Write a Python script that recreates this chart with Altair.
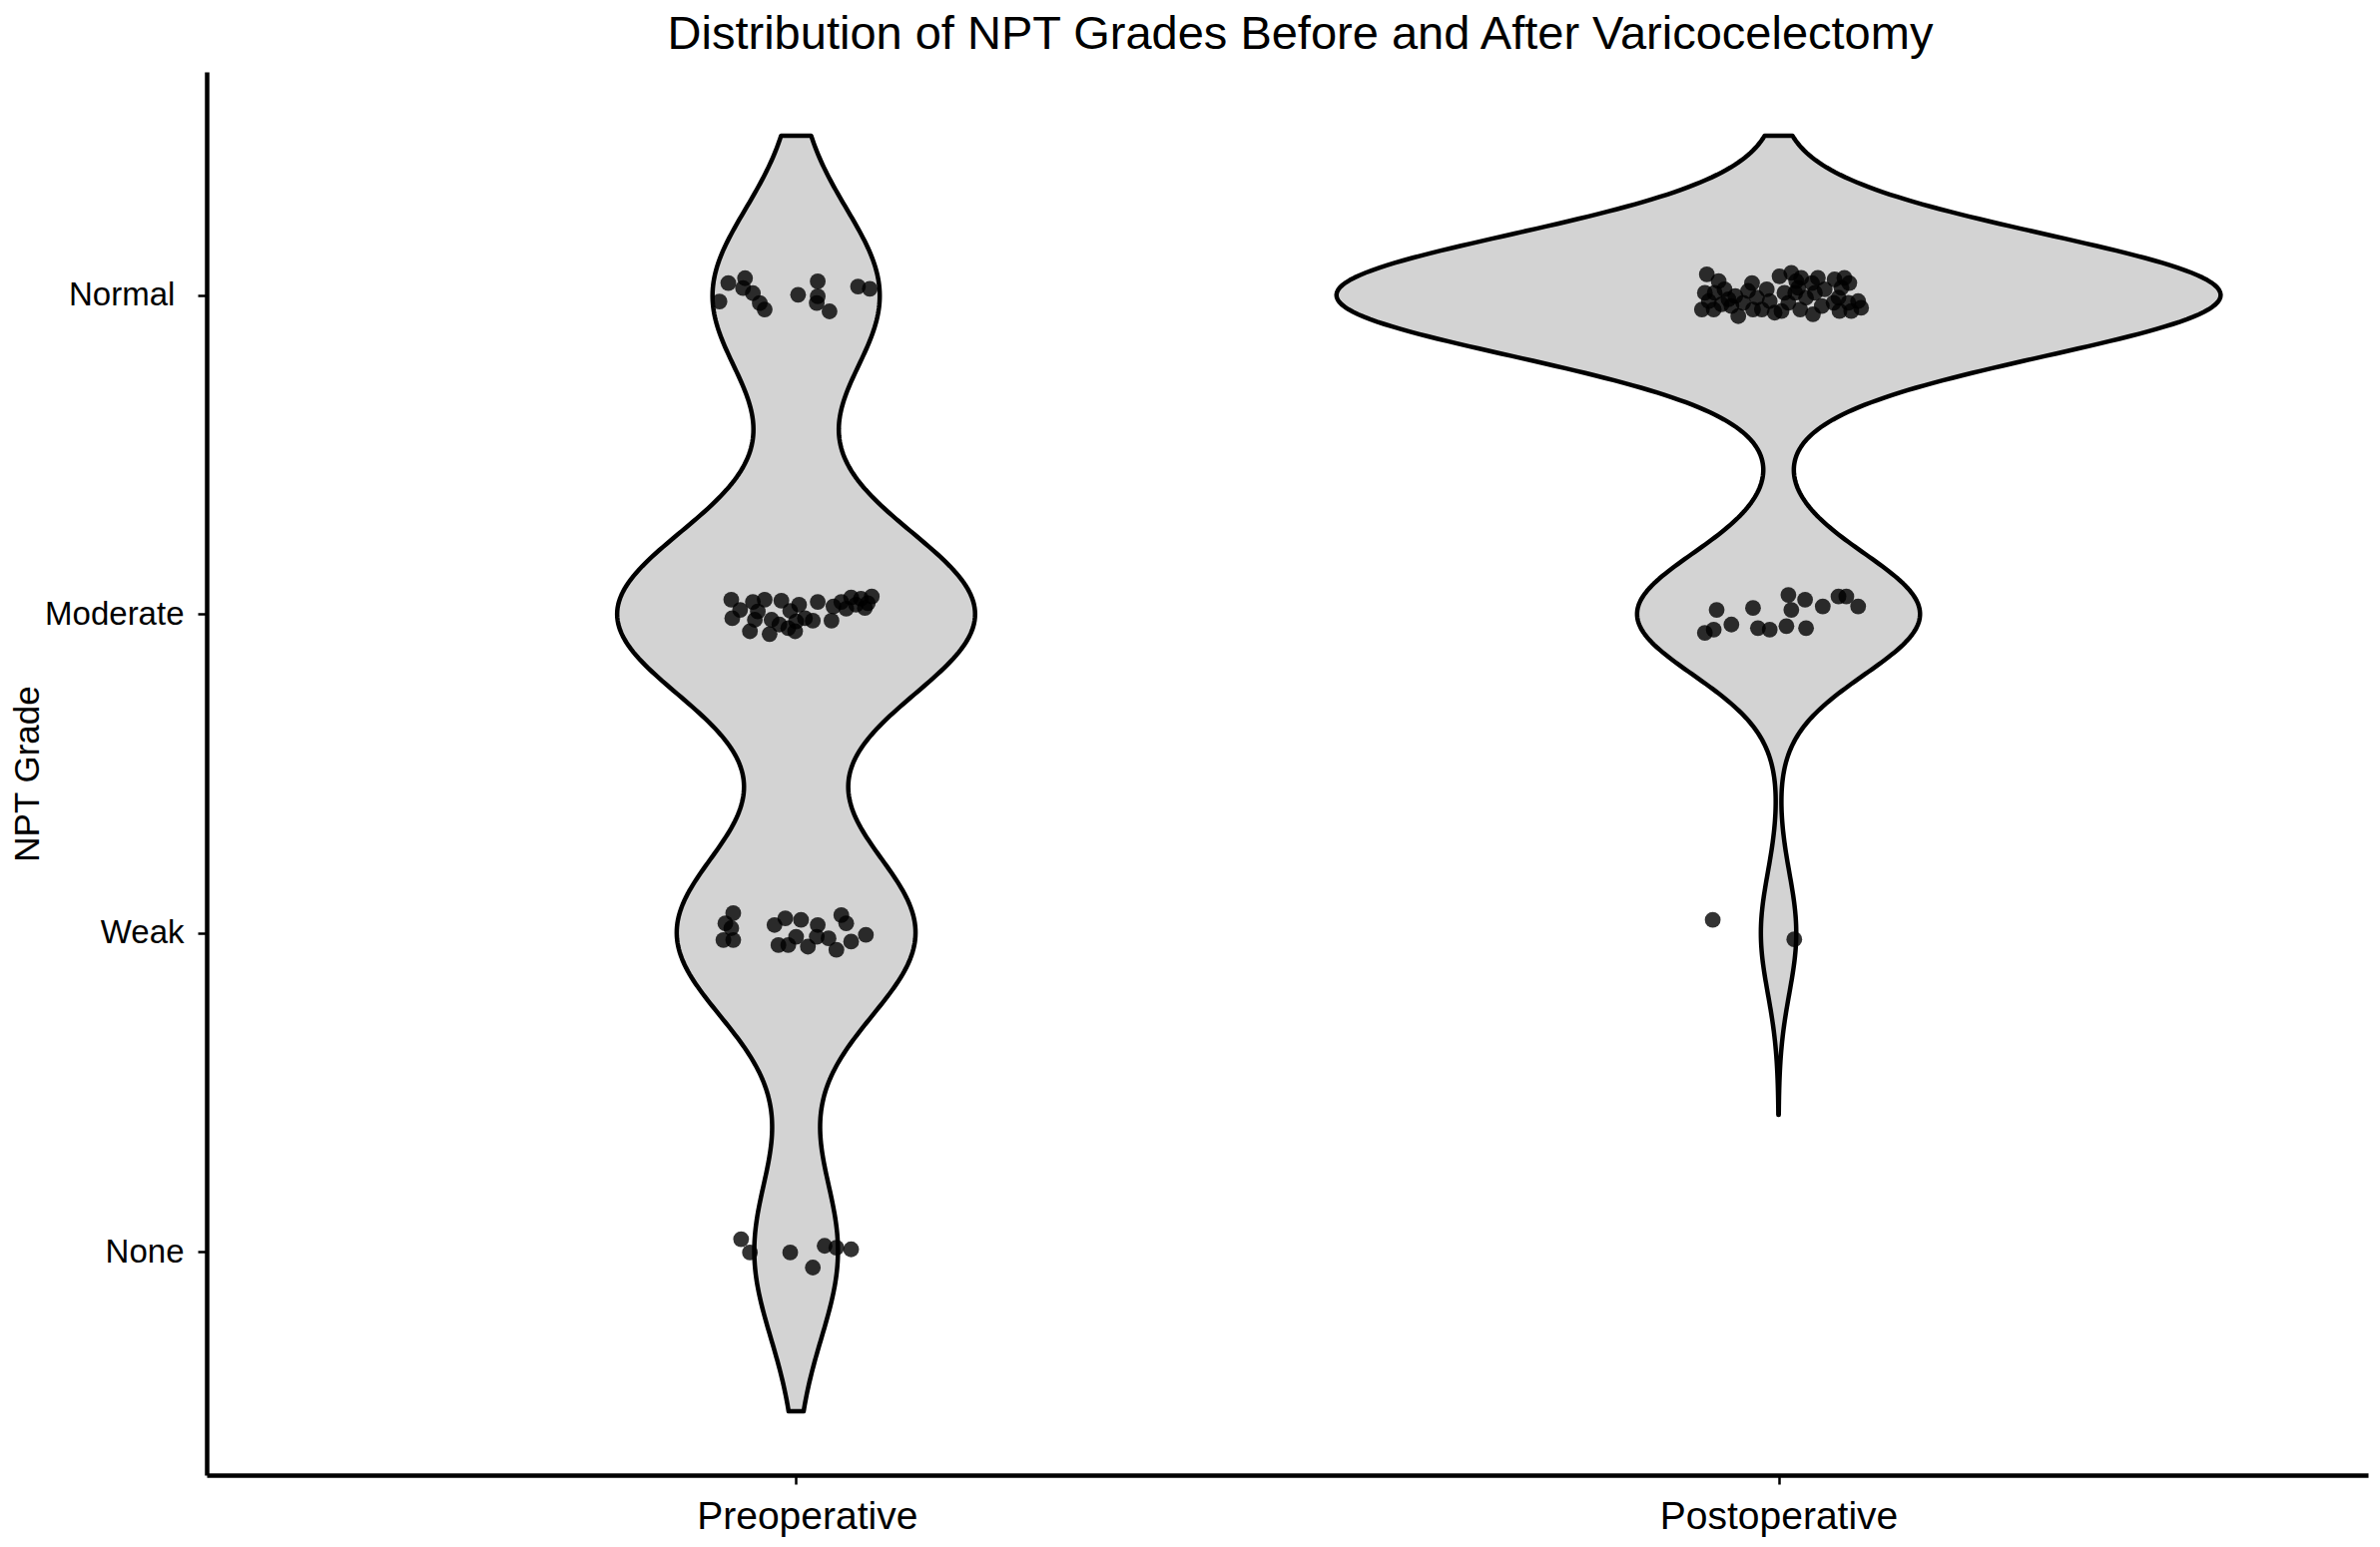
import altair as alt
import numpy as np
import pandas as pd

categories = ["Preoperative", "Postoperative"]
# axis label texts; a zero-width space keeps the padding spaces from being trimmed
x_labels = ["\u200b\u00a0\u00a0Preoperative", "Postoperative"]
grade_labels = ["None", "Weak", "Moderate", "Normal\u00a0\u200b"]

# Kernel bandwidths (grade units)
bandwidths = [0.27, 0.19]

# Preoperative points: horizontal jitter (category units) and jittered grade value
pre_jitter = [-0.078, -0.069, -0.052, -0.054, -0.044, -0.037, -0.032, 0.002, 0.022,
              0.022, 0.021, 0.034, 0.063, 0.075,
              -0.066, -0.065, -0.057, -0.044, -0.032, -0.039, -0.042, -0.047, -0.025, -0.027,
              -0.015, -0.006, 0.003, -0.008, -0.001, 0.009, 0.017, 0.022, 0.036, 0.038,
              0.046, 0.051, 0.056, 0.061, 0.066, 0.070, 0.077, 0.073, 0.000, -0.017,
              -0.064, -0.072, -0.066, -0.074, -0.064, -0.022, -0.011, 0.005, 0.022, -0.018,
              -0.008, 0.000, 0.012, 0.021, 0.033, 0.041, 0.046, 0.051, 0.056, 0.071,
              -0.056, -0.047, -0.006, 0.017, 0.029, 0.041, 0.056]
pre_y = [3.980, 4.038, 4.053, 4.022, 4.006, 3.975, 3.955, 4.001, 4.043,
         3.996, 3.975, 3.949, 4.027, 4.020,
         3.045, 2.987, 3.013, 3.038, 3.045, 3.008, 2.982, 2.946, 2.982, 2.937,
         3.042, 3.010, 3.029, 2.956, 2.946, 2.987, 2.979, 3.038, 2.979, 3.024,
         3.038, 3.017, 3.052, 3.029, 3.048, 3.019, 3.055, 3.034, 2.977, 2.967,
         2.062, 2.030, 2.015, 1.978, 1.978, 2.025, 2.046, 2.041, 2.025, 1.962,
         1.962, 1.988, 1.957, 1.988, 1.983, 1.947, 2.056, 2.030, 1.973, 1.994,
         1.040, 0.998, 0.998, 0.951, 1.019, 1.013, 1.008]

# Postoperative points
post_jitter = [-0.073, -0.061, -0.075, -0.065, -0.055, -0.078, -0.066, -0.058, -0.051, -0.071,
               -0.041, -0.048, -0.036, -0.027, -0.031, -0.022, -0.017, -0.012, -0.009, -0.004,
               -0.026, 0.001, 0.013, 0.018, 0.023, 0.006, 0.017, 0.010, 0.003, 0.022,
               0.028, 0.034, 0.040, 0.037, 0.044, 0.035, 0.020, 0.057, 0.067, 0.072,
               0.064, 0.061, 0.071, 0.081, 0.084, 0.062, 0.074, 0.056, 0.047, -0.044,
               -0.063, -0.066, -0.075, -0.048, -0.026, -0.021, -0.009, 0.010, 0.013, 0.008,
               0.027, 0.028, 0.045, 0.061, 0.069, 0.081,
               -0.067, 0.016]
post_y = [4.065, 4.044, 4.007, 4.007, 4.018, 3.955, 3.955, 3.971, 3.987, 3.981,
          3.934, 3.966, 3.976, 4.038, 4.013, 3.992, 3.955, 4.018, 3.981, 3.945,
          3.955, 4.059, 4.070, 4.044, 4.054, 4.007, 4.007, 3.976, 3.950, 3.955,
          3.992, 4.038, 4.054, 4.007, 3.966, 3.940, 4.023, 4.049, 4.054, 4.038,
          4.023, 3.992, 3.976, 3.981, 3.960, 3.950, 3.950, 3.976, 4.018, 3.997,
          3.013, 2.951, 2.941, 2.967, 3.019, 2.956, 2.951, 3.060, 3.013, 2.962,
          3.045, 2.956, 3.024, 3.055, 3.055, 3.024,
          2.041, 1.980]

rows = []
for pos, (jit, ys) in enumerate([(pre_jitter, pre_y), (post_jitter, post_y)], start=1):
    for j, y in zip(jit, ys):
        rows.append({"group": categories[pos - 1], "pos": pos, "jit": j, "y": y})
df = pd.DataFrame(rows)
df["grade"] = df["y"].round()

Y_LIM = (0.5, 4.5)


def kde(v, bw, grid):
    v = np.asarray(v, float)
    z = (grid[:, None] - v[None, :]) / bw
    return np.exp(-0.5 * z ** 2).sum(1) / (len(v) * bw * np.sqrt(2 * np.pi))


params = []
maxd = 0.0
for pos, cat in enumerate(categories, start=1):
    g = df.loc[df["group"] == cat, "grade"].values
    bw = bandwidths[pos - 1]
    lo, hi = g.min() - 3 * bw, g.max() + 3 * bw
    grid = np.linspace(lo, hi, 512)
    maxd = max(maxd, kde(g, bw, grid).max())
    params.append((pos, cat, bw, max(lo, Y_LIM[0]), min(hi, Y_LIM[1])))

FONT = "Liberation Sans"
x_scale = alt.Scale(domain=[0.4, 2.6], nice=False, zero=False)
y_scale = alt.Scale(domain=[0.3, 4.7], nice=False, zero=False)

x_label_expr = "[" + ",".join("'%s'" % c for c in x_labels) + "][datum.value-1]"
y_label_expr = "[" + ",".join("'%s'" % c for c in grade_labels) + "][datum.value-1]"

x_axis = alt.Axis(title="", values=[1, 2], labelExpr=x_label_expr, grid=False,
                  domainColor="black", domainWidth=4.5, tickColor="black", tickWidth=2.5,
                  tickSize=9, labelFont=FONT, labelFontSize=39, labelColor="black",
                  labelPadding=13, labelFlush=False, labelLimit=0)
y_axis = alt.Axis(title="NPT Grade", values=[1, 2, 3, 4], labelExpr=y_label_expr, grid=False,
                  domainColor="black", domainWidth=4.5, tickColor="black", tickWidth=2.5,
                  tickSize=9, labelFont=FONT, labelFontSize=33, labelColor="black",
                  labelPadding=14, labelFlush=False, labelLimit=0,
                  titleFont=FONT, titleFontSize=35, titleFontWeight="normal", titleColor="black",
                  titleX=-180, titleY=703, titleAngle=270, titleAlign="center",
                  titleBaseline="middle")

layers = []
for pos, cat, bw, lo, hi in params:
    violin = (
        alt.Chart(df)
        .transform_filter(alt.datum.group == cat)
        .transform_density("grade", as_=["value", "density"], bandwidth=float(bw),
                           extent=[float(lo), float(hi)], steps=400)
        .transform_calculate(
            xl=f"{pos} - 0.45 * datum.density / {maxd}",
            xr=f"{pos} + 0.45 * datum.density / {maxd}",
        )
        .mark_area(orient="horizontal", fill="#D3D3D3", stroke="black", strokeWidth=4.5,
                   strokeJoin="round")
        .encode(
            y=alt.Y("value:Q", scale=y_scale, axis=y_axis),
            x=alt.X("xl:Q", scale=x_scale, axis=x_axis),
            x2="xr:Q",
        )
    )
    layers.append(violin)

points = (
    alt.Chart(df)
    .transform_calculate(xp="datum.pos + datum.jit")
    .mark_circle(size=250, color="black", opacity=0.8)
    .encode(
        x=alt.X("xp:Q", scale=x_scale, axis=x_axis),
        y=alt.Y("y:Q", scale=y_scale, axis=y_axis),
    )
)
layers.append(points)

chart = (
    alt.layer(*layers)
    .properties(
        width=2165,
        height=1406,
        autosize=alt.AutoSizeParams(type="none"),
        padding={"left": 199, "top": 64, "right": 4, "bottom": 64},
        title=alt.TitleParams(
            text="Distribution of NPT Grades Before and After Varicocelectomy",
            font=FONT, fontSize=47, fontWeight="normal", color="black",
            anchor="middle", baseline="alphabetic", offset=-24, dx=13,
        ),
        background="white",
    )
    .configure_view(stroke=None)
)

chart.save("out.html", embed_options={"renderer": "svg", "actions": False})
